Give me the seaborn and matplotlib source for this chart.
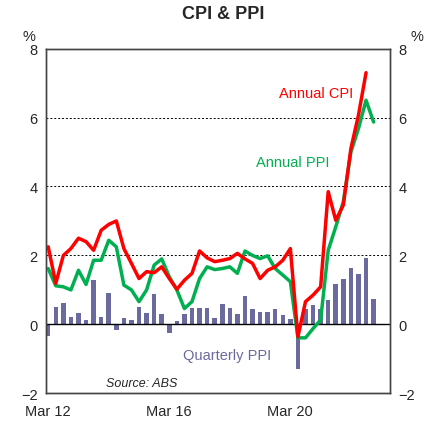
import numpy as np
import pandas as pd
import matplotlib.pyplot as plt
import seaborn as sns

# quarterly data, Mar 2012 .. Dec 2022
quarterly_ppi = [-0.35, 0.51, 0.61, 0.22, 0.32, 0.13, 1.30, 0.22, 0.90, -0.16,
                 0.20, 0.13, 0.51, 0.32, 0.88, 0.29, -0.26, 0.10, 0.30, 0.49,
                 0.49, 0.49, 0.20, 0.58, 0.48, 0.29, 0.83, 0.46, 0.37, 0.37,
                 0.44, 0.27, 0.17, -1.30, 0.46, 0.56, 0.46, 0.72, 1.16, 1.33,
                 1.64, 1.47, 1.94, 0.74]
annual_cpi = [2.25, 1.19, 2.0, 2.2, 2.5, 2.4, 2.15, 2.73, 2.9, 3.0,
              2.2, 1.77, 1.33, 1.53, 1.5, 1.67, 1.33, 1.02, 1.28, 1.48,
              2.13, 1.93, 1.82, 1.86, 1.91, 2.06, 1.9, 1.77, 1.33, 1.57,
              1.67, 1.86, 2.2, -0.36, 0.66, 0.85, 1.09, 3.85, 3.02, 3.46,
              5.1, 6.07, 7.3]
annual_ppi = [1.62, 1.12, 1.09, 1.0, 1.57, 1.16, 1.86, 1.86, 2.44, 2.25,
              1.14, 1.0, 0.66, 1.0, 1.72, 1.9, 1.38, 1.0, 0.46, 0.66,
              1.33, 1.67, 1.59, 1.62, 1.67, 1.48, 2.13, 2.0, 1.91, 1.99,
              1.62, 1.43, 1.24, -0.39, -0.39, -0.12, 0.13, 2.15, 2.83, 3.56,
              5.0, 5.68, 6.5, 5.87]
tick_labels = ["Mar 12", "Mar 16", "Mar 20"]

bars = pd.DataFrame({"q": np.arange(len(quarterly_ppi)), "v": quarterly_ppi})
cpi = pd.DataFrame({"q": np.arange(len(annual_cpi)), "v": annual_cpi})
ppi = pd.DataFrame({"q": np.arange(len(annual_ppi)), "v": annual_ppi})

sns.set_style("white")
plt.rcParams["font.family"] = ["Liberation Sans", "DejaVu Sans"]

fig, ax = plt.subplots(figsize=(4.46, 4.31), dpi=100)
fig.subplots_adjust(left=0.103, right=0.875, top=0.885, bottom=0.085)

sns.barplot(data=bars, x="q", y="v", native_scale=True, width=0.6,
            color="#6a6a9e", saturation=1, linewidth=0, ax=ax, zorder=2)
sns.lineplot(data=ppi, x="q", y="v", color="#00b050", lw=2.5, ax=ax, zorder=3)
sns.lineplot(data=cpi, x="q", y="v", color="#ff0000", lw=2.5, ax=ax, zorder=4)

# make bars a fixed width in quarter units
for p in ax.patches:
    c = p.get_x() + p.get_width() / 2
    p.set_width(0.6)
    p.set_x(c - 0.3)

ax.set_xlim(-0.3, 45.2)
ax.set_ylim(-2, 8)
ax.set_yticks([-2, 0, 2, 4, 6, 8])
for y in [2, 4, 6]:
    ax.axhline(y, color="black", ls=(0, (2, 2)), lw=0.7, zorder=1)
ax.axhline(0, color="black", lw=1, zorder=2.5)
ax.set_xticks([0, 16, 32])
ax.set_xticklabels(tick_labels)
ax.set_xlabel("")
ax.set_ylabel("")
ax.tick_params(axis="x", labelsize=10.5, length=0, pad=8)
ax.tick_params(axis="y", labelsize=10.5, length=0, pad=6)

ax2 = ax.twinx()
ax2.set_ylim(-2, 8)
ax2.set_yticks([-2, 0, 2, 4, 6, 8])
ax2.tick_params(labelsize=10.5, length=0, pad=6)

for a in (ax, ax2):
    for s in a.spines.values():
        s.set_color("#444444")
        s.set_linewidth(1)

fig.text(0.5, 0.955, "CPI & PPI", ha="center", fontsize=13, fontweight="bold")
fig.text(0.05, 0.905, "%", fontsize=10.5)
fig.text(0.92, 0.905, "%", fontsize=10.5)
ax.text(30.5, 6.6, "Annual CPI", color="#ff0000", fontsize=10.5)
ax.text(27.5, 4.6, "Annual PPI", color="#00b050", fontsize=10.5)
ax.text(17.8, -1.0, "Quarterly PPI", color="#6a6a9e", fontsize=10.5)
ax.text(7.7, -1.8, "Source: ABS", fontsize=9, style="italic")

fig.savefig("out.png", dpi=100)
